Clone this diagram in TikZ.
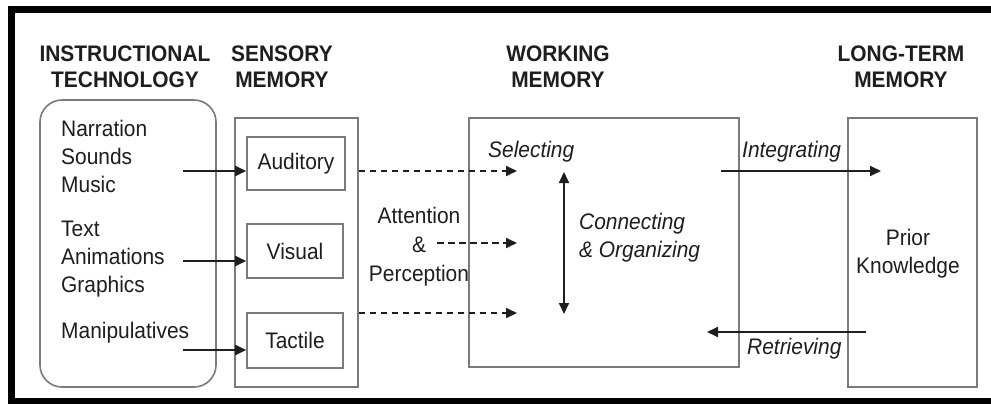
\documentclass[tikz,border=0pt]{standalone}
\usepackage{fontspec}
\setmainfont{Liberation Sans}[FakeStretch=0.93]
\usetikzlibrary{arrows.meta}
\definecolor{boxgray}{HTML}{7A7A7A}
\definecolor{ink}{HTML}{1E1E1E}
\begin{document}
\begin{tikzpicture}[x=1pt,y=-1pt,
  box/.style={draw=boxgray, line width=1.6pt, inner sep=0pt, text=ink, font=\fontsize{22.5}{28}\selectfont},
  arr/.style={draw=ink, line width=1.8pt, -{Triangle[length=11pt,width=10pt]}},
  darr/.style={arr, dash pattern=on 6.5pt off 4.5pt},
  barr/.style={draw=ink, line width=1.8pt, {Triangle[length=11pt,width=10pt]}-{Triangle[length=11pt,width=10pt]}},
  hdr/.style={font=\bfseries\fontsize{22.5}{26}\selectfont, align=center, inner sep=0pt, text=ink},
  txt/.style={font=\fontsize{22.5}{28}\selectfont, inner sep=0pt, text=ink},
  itx/.style={font=\itshape\fontsize{22.5}{28}\selectfont, inner sep=0pt, text=ink}]
\useasboundingbox (0,0) rectangle (991,404);
\fill[white] (0,0) rectangle (991,404);
\draw[line width=7pt] (11.5,9.5) rectangle (1010,401.5);
% headers
\node[hdr] (hit) at (125,66.6) {INSTRUCTIONAL\\TECHNOLOGY};
\node[hdr] (hsm) at (282,66.6) {SENSORY\\MEMORY};
\node[hdr] (hwm) at (558,66.6) {WORKING\\MEMORY};
\node[hdr] (hlt) at (901,66.6) {LONG-TERM\\MEMORY};
% boxes
\node[box, rounded corners=22pt, minimum width=176pt, minimum height=287pt] (it) at (128,243.5) {};
\node[box, minimum width=123pt, minimum height=269pt] (sm) at (296.5,252.5) {};
\node[box, minimum width=98pt, minimum height=53pt] (aud) at (296,163.5) {Auditory};
\node[box, minimum width=96pt, minimum height=54pt] (vis) at (295,251) {Visual};
\node[box, minimum width=96pt, minimum height=55pt] (tac) at (295,340.5) {Tactile};
\node[box, minimum width=270pt, minimum height=249pt] (wm) at (604,242.5) {};
\node[box, minimum width=129pt, minimum height=269pt] (ltm) at (912.5,252.5) {};
% texts
\node[txt, align=left, anchor=west] (g1) at (61,156.6) {Narration\\Sounds\\Music};
\node[txt, align=left, anchor=west] (g2) at (61,259.3) {Text\\Animations\\Graphics};
\node[txt, anchor=base west] (g3) at (61,338.3) {Manipulatives};
\node[txt, align=center, font=\fontsize{22.5}{29}\selectfont] (ap) at (419,246.9) {Attention\\\&\\Perception};
\node[itx, anchor=base west] (sel) at (488,157) {Selecting};
\node[itx, align=left, anchor=west] (co) at (579,237.3) {Connecting\\\& Organizing};
\node[itx, anchor=base west] (int) at (742,157) {Integrating};
\node[itx, anchor=base west] (ret) at (747,354.5) {Retrieving};
\node[txt, align=center] (pk) at (908,254) {Prior\\Knowledge};
% connector ends
\coordinate (a1) at (183,171);
\coordinate (a2) at (183,261);
\coordinate (a3) at (183,350);
\coordinate (d1) at (517,171);
\coordinate (d2s) at (437,243);
\coordinate (d2) at (517,243);
\coordinate (d3) at (517,313);
\coordinate (v1) at (564,172);
\coordinate (v2) at (564,314);
\coordinate (i1) at (721,171);
\coordinate (i2) at (881,171);
\coordinate (r1) at (866,332);
\coordinate (r2) at (707,332);
% connectors
\draw[arr] (a1) -- (a1 -| aud.west);
\draw[arr] (a2) -- (a2 -| vis.west);
\draw[arr] (a3) -- (a3 -| tac.west);
\draw[darr] (sm.east |- d1) -- (d1);
\draw[darr] (d2s) -- (d2);
\draw[darr] (sm.east |- d3) -- (d3);
\draw[barr] (v1) -- (v2);
\draw[arr] (i1) -- (i2);
\draw[arr] (r1) -- (r2);
\end{tikzpicture}
\end{document}
